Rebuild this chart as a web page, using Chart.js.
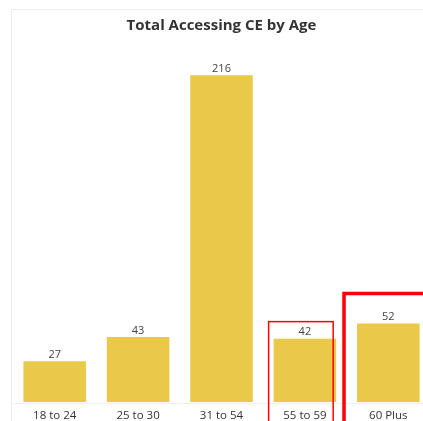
<!DOCTYPE html>
<html>
<head>
<meta charset="utf-8">
<script src="https://cdn.jsdelivr.net/npm/chart.js@4"></script>
<style>
  body { margin: 0; background: #fff; }
  #wrap { position: relative; width: 423px; height: 421px; overflow: hidden; }
  #panel { position: absolute; left: 11px; top: 9px; width: 430px; height: 430px;
           border-left: 1px solid #ececec; border-top: 1px solid #ececec; }
  #myChart { position: absolute; left: 0; top: 0; }
</style>
</head>
<body>
<div id="wrap">
  <div id="panel"></div>
  <canvas id="myChart" width="430" height="430" style="width:430px;height:430px"></canvas>
</div>
<script>
var ageGroups = ['18 to 24', '25 to 30', '31 to 54', '55 to 59', '60 Plus'];
var totals = [27, 43, 216, 42, 52];
var highlighted = [3, 4];

// numbers over the bars
var valueLabels = {
  id: 'valueLabels',
  afterDatasetsDraw: function(chart) {
    var ctx = chart.ctx;
    var meta = chart.getDatasetMeta(0);
    ctx.save();
    ctx.font = '11px "Open Sans"';
    ctx.fillStyle = '#444';
    ctx.textAlign = 'center';
    ctx.textBaseline = 'bottom';
    meta.data.forEach(function(bar, i) {
      ctx.fillText(totals[i], bar.x, bar.y - 1);
    });
    ctx.restore();
  }
};

// baseline + the red boxes someone drew on the screenshot
var marks = {
  id: 'marks',
  afterDraw: function(chart) {
    var ctx = chart.ctx;
    var area = chart.chartArea;
    var meta = chart.getDatasetMeta(0);
    ctx.save();
    ctx.strokeStyle = '#ededed';
    ctx.lineWidth = 1;
    ctx.beginPath();
    ctx.moveTo(area.left, area.bottom + 1.5);
    ctx.lineTo(area.right, area.bottom + 1.5);
    ctx.stroke();

    ctx.strokeStyle = '#ff0000';
    var b = meta.data[highlighted[0]];
    var w = b.width;
    ctx.lineWidth = 1.5;
    ctx.strokeRect(b.x - w / 2 - 5, b.y - 17, w + 2, chart.height - b.y + 30);

    b = meta.data[highlighted[1]];
    ctx.lineWidth = 3.5;
    ctx.strokeRect(b.x - w / 2 - 13, b.y - 30, w + 40, chart.height - b.y + 40);
    ctx.restore();
  }
};

var ctx = document.getElementById('myChart').getContext('2d');
var myChart = new Chart(ctx, {
  type: 'bar',
  data: {
    labels: ageGroups,
    datasets: [{
      label: 'Total',
      data: totals,
      backgroundColor: '#e9c84a',
      barPercentage: 0.75,
      categoryPercentage: 1.0
    }]
  },
  options: {
    responsive: false,
    animation: false,
    layout: { padding: { left: 13, right: 0, top: 0, bottom: 0 } },
    plugins: {
      legend: { display: false },
      tooltip: { enabled: false },
      title: {
        display: true,
        text: 'Total Accessing CE by Age',
        color: '#333',
        font: { family: '"Open Sans"', size: 15, weight: 'bold' },
        padding: { top: 17, bottom: 7 }
      }
    },
    scales: {
      x: {
        grid: { display: false, drawTicks: false },
        border: { display: false },
        ticks: { color: '#333', font: { family: '"Open Sans"', size: 11.5 }, padding: 7 }
      },
      y: {
        display: false,
        min: 0,
        max: 238
      }
    }
  },
  plugins: [valueLabels, marks]
});
</script>
</body>
</html>
